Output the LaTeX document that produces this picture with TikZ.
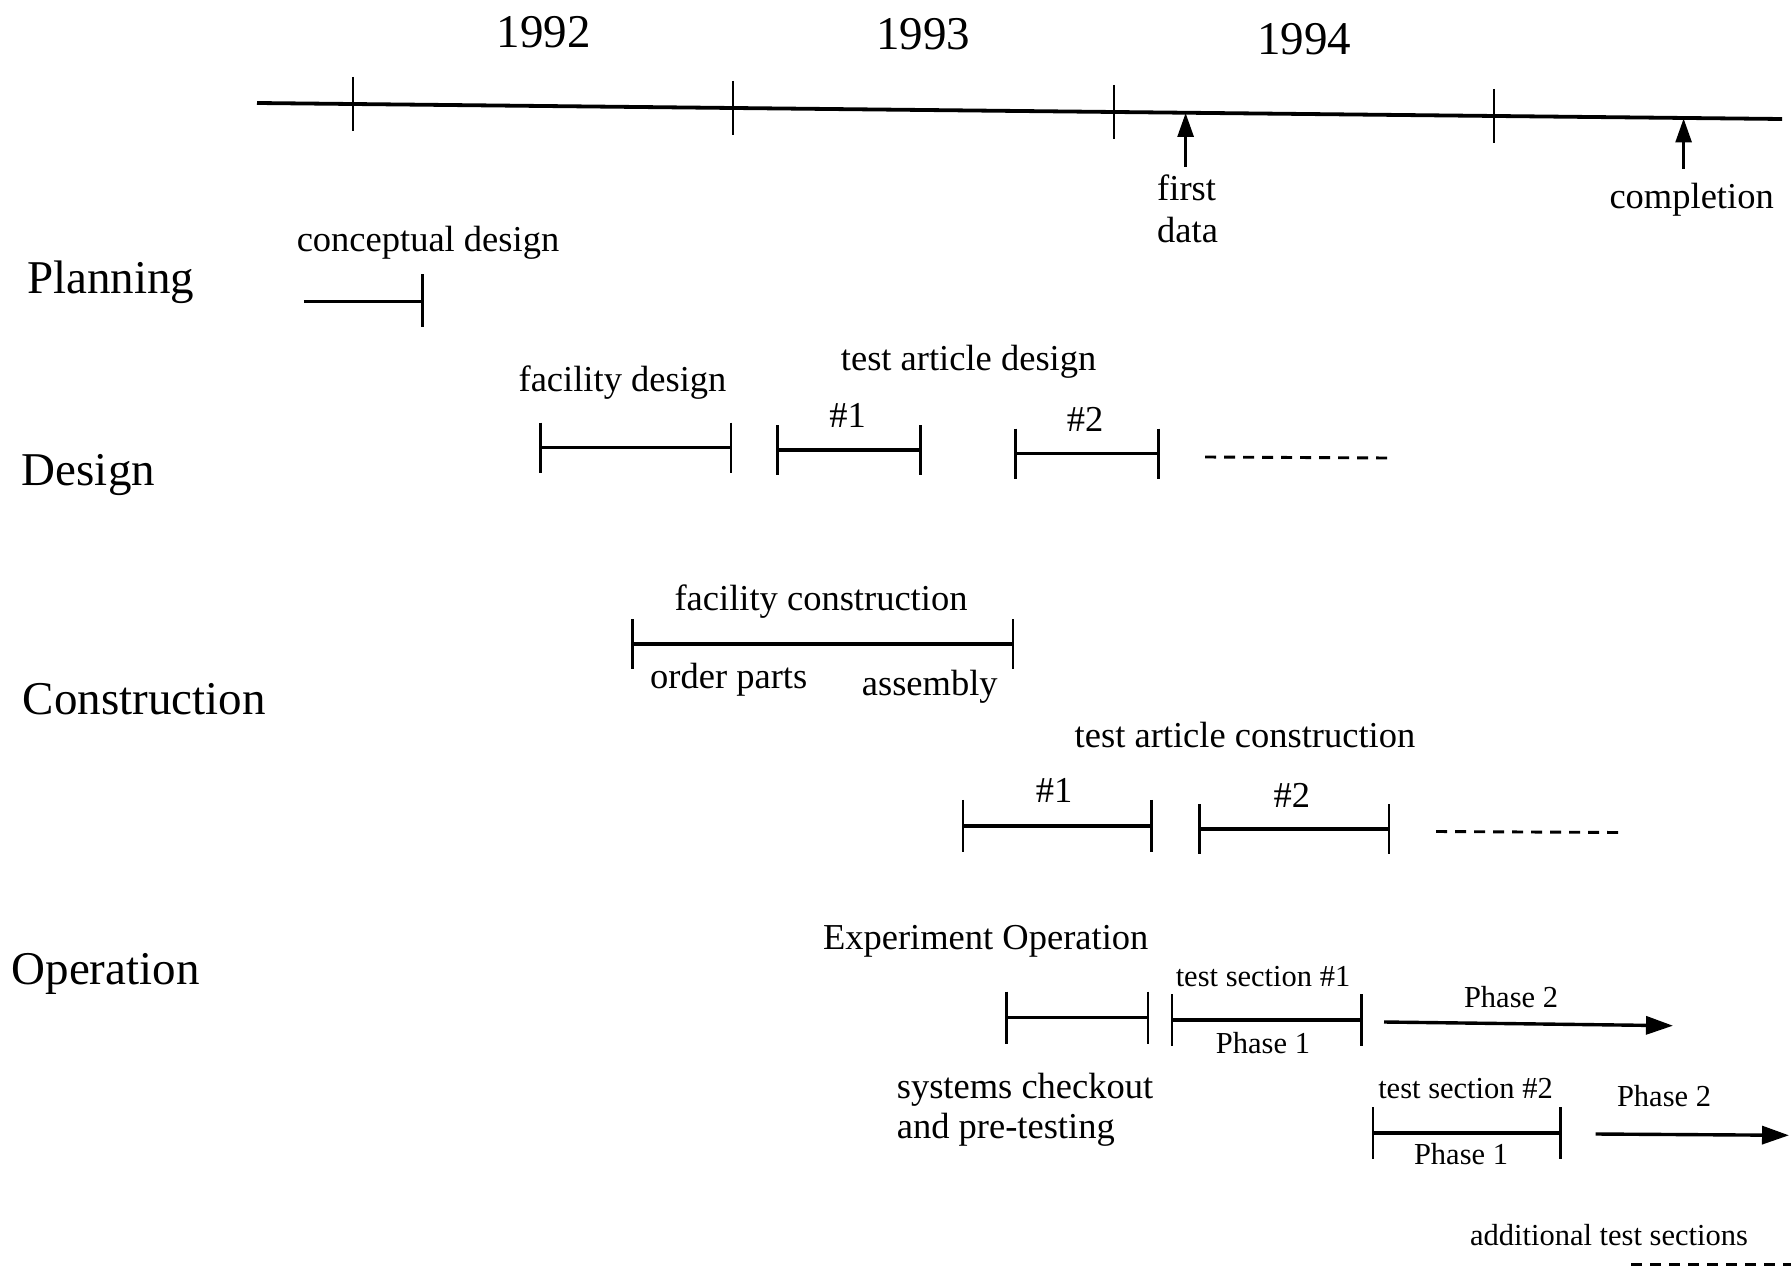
\documentclass[tikz,border=0pt]{standalone}
\usepackage{fontspec}
\setmainfont{Liberation Serif}
\usetikzlibrary{arrows.meta}
\tikzset{
  biglab/.style={inner sep=0pt, font=\fontsize{47}{52}\selectfont},
  lab/.style={inner sep=0pt, font=\fontsize{36.5}{40}\selectfont},
  smalllab/.style={inner sep=0pt, font=\fontsize{30.5}{34}\selectfont},
  timeline/.style={line width=3.8pt},
  barline/.style={line width=3.4pt},
  tickline/.style={line width=2.9pt},
  dashline/.style={line width=2.9pt, dash pattern=on 11pt off 8pt},
  uparrow/.style={line width=2.9pt, -{Triangle[length=24pt,width=16pt]}},
  phasearrow/.style={line width=3.4pt, -{Triangle[length=27pt,width=18pt]}},
}
% name, x-left, x-right, y, half tick length
\newcommand\ganttbar[5]{%
  \coordinate (#1-l) at (#2,#4);
  \coordinate (#1-r) at (#3,#4);
  \draw[barline] (#1-l) -- (#1-r);
  \draw[tickline] ([yshift=#5pt]#1-l) -- ([yshift=-#5pt]#1-l);
  \draw[tickline] ([yshift=#5pt]#1-r) -- ([yshift=-#5pt]#1-r);
}
\begin{document}
\begin{tikzpicture}[x=1pt,y=-1pt]
\useasboundingbox (0,0) rectangle (1791,1273);
\fill[white] (0,0) rectangle (1791,1273);

% ---- timeline ----
\coordinate (tl-a) at (257,103);
\coordinate (tl-b) at (1782,119);
\draw[timeline] (tl-a) -- (tl-b);
\coordinate (t1) at (353,104);
\coordinate (t2) at (733,108);
\coordinate (t3) at (1114,112);
\coordinate (t4) at (1494,116);
\foreach \t in {t1,t2,t3,t4}
  \draw[tickline] ([yshift=27pt]\t) -- ([yshift=-27pt]\t);

\node[biglab] (y1992) at (543.7,32) {1992};
\node[biglab] (y1993) at (923,34) {1993};
\node[biglab] (y1994) at (1304,39) {1994};

% milestones
\coordinate (fd-top) at (1185.6,113);
\coordinate (fd-bot) at (1185.6,167);
\draw[uparrow] (fd-bot) -- (fd-top);
\node[lab, anchor=west] (first) at (1157,188) {first};
\node[lab, anchor=west] (data) at (1157,230) {data};

\coordinate (cp-top) at (1683.6,118.5);
\coordinate (cp-bot) at (1683.6,169);
\draw[uparrow] (cp-bot) -- (cp-top);
\node[lab] (completion) at (1691.6,200) {completion};

% ---- row labels ----
\node[biglab, anchor=west] (planning) at (27,282) {Planning};
\node[biglab, anchor=west] (design) at (21.7,475) {Design};
\node[biglab, anchor=west] (construction) at (22.8,699) {Construction};
\node[biglab, anchor=west] (operation) at (11.4,974) {Operation};

% ---- planning ----
\node[lab] (concept) at (428,242.5) {conceptual design};
\coordinate (cd-l) at (303.8,301.5);
\coordinate (cd-r) at (422.6,301.5);
\draw[barline] (cd-l) -- (cd-r);
\draw[tickline] ([yshift=27pt]cd-r) -- ([yshift=-26pt]cd-r);

% ---- design ----
\node[lab] (facdes) at (622.5,382.5) {facility design};
\ganttbar{fdb}{540.3}{731}{447.7}{25}
\node[lab] (tad) at (968.6,362) {test article design};
\node[lab] (tad1) at (847.5,415.8) {\#1};
\ganttbar{tad1b}{777.8}{920.6}{450}{25}
\node[lab] (tad2) at (1085,419) {\#2};
\ganttbar{tad2b}{1015.4}{1158.2}{453.5}{25}
\coordinate (tad-d1) at (1205,457);
\coordinate (tad-d2) at (1388,458);
\draw[dashline] (tad-d1) -- (tad-d2);

% ---- construction ----
\node[lab] (faccon) at (821,602) {facility construction};
\ganttbar{fcb}{632.8}{1013}{644}{25}
\node[lab] (order) at (728.7,680) {order parts};
\node[lab] (assembly) at (929.8,687) {assembly};
\node[lab] (tac) at (1245,735.5) {test article construction};
\node[lab] (tac1) at (1054,790) {\#1};
\ganttbar{tac1b}{963}{1151.3}{825.8}{26}
\node[lab] (tac2) at (1291.8,795) {\#2};
\ganttbar{tac2b}{1199.3}{1389}{829}{25}
\coordinate (tac-d1) at (1436,831.5);
\coordinate (tac-d2) at (1618,832.5);
\draw[dashline] (tac-d1) -- (tac-d2);

% ---- operation ----
\node[lab] (expop) at (985.7,941) {Experiment Operation};
\ganttbar{scb}{1006.3}{1148}{1017.7}{26}
\node[lab, anchor=west] (sys1) at (896.6,1090) {systems checkout};
\node[lab, anchor=west] (sys2) at (896.6,1130) {and pre-testing};

\ganttbar{ts1b}{1172}{1361.5}{1020}{26}
\node[smalllab] (ts1) at (1263,976.6) {test section \#1};
\node[smalllab] (ts1p1) at (1263,1042.8) {Phase 1};
\coordinate (ts1-p2a) at (1384,1022);
\coordinate (ts1-p2b) at (1673,1025.7);
\draw[phasearrow] (ts1-p2a) -- (ts1-p2b);
\node[smalllab] (ts1p2) at (1511,997) {Phase 2};

\ganttbar{ts2b}{1373}{1560.3}{1133}{26}
\node[smalllab] (ts2) at (1465.5,1088.5) {test section \#2};
\node[smalllab] (ts2p1) at (1461,1153.6) {Phase 1};
\coordinate (ts2-p2a) at (1595.6,1134);
\coordinate (ts2-p2b) at (1789,1135.3);
\draw[phasearrow] (ts2-p2a) -- (ts2-p2b);
\node[smalllab] (ts2p2) at (1664,1096.5) {Phase 2};

\node[smalllab] (addl) at (1609,1234.7) {additional test sections};
\coordinate (ad-d1) at (1631,1264.4);
\coordinate (ad-d2) at (1791,1264.4);
\draw[dashline] (ad-d1) -- (ad-d2);
\end{tikzpicture}
\end{document}
